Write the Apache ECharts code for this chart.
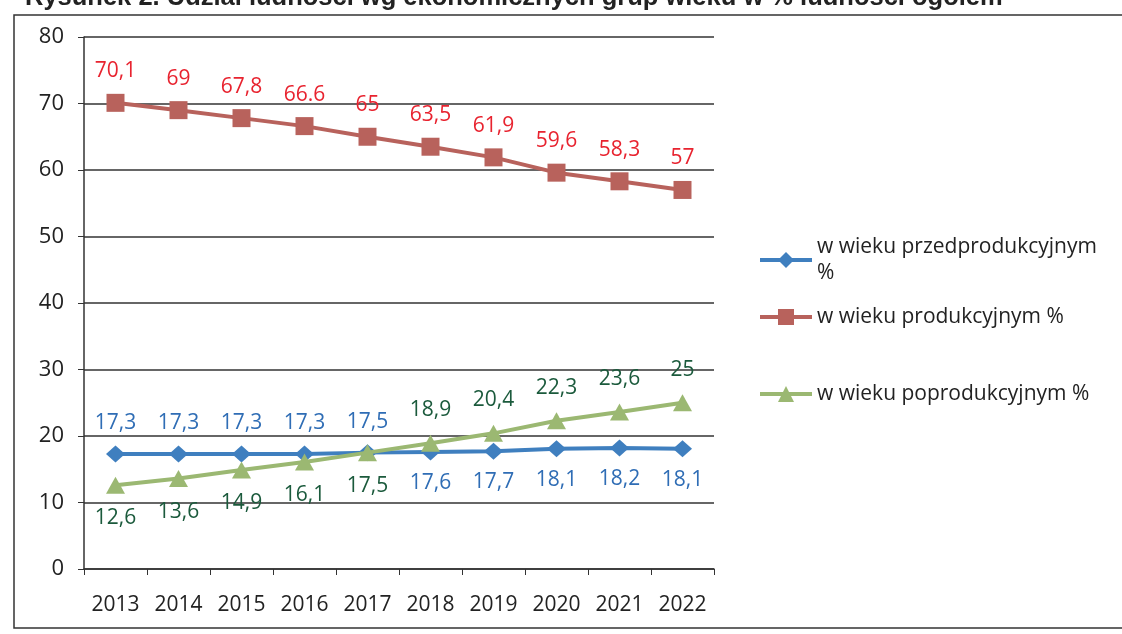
<!DOCTYPE html>
<html><head><meta charset="utf-8">
<script src="https://cdn.jsdelivr.net/npm/echarts@6/dist/echarts.min.js"></script>
<style>html,body{margin:0;padding:0;background:#fff}#c{width:1122px;height:634px}</style>
</head><body><div id="c"></div>
<script>
var years = ['2013','2014','2015','2016','2017','2018','2019','2020','2021','2022'];
var przed = [17.3,17.3,17.3,17.3,17.5,17.6,17.7,18.1,18.2,18.1];
var prod = [70.1,69,67.8,66.6,65,63.5,61.9,59.6,58.3,57];
var poprod = [12.6,13.6,14.9,16.1,17.5,18.9,20.4,22.3,23.6,25];
var przedLabels = ['17,3','17,3','17,3','17,3','17,5','17,6','17,7','18,1','18,2','18,1'];
var prodLabels = ['70,1','69','67,8','66.6','65','63,5','61,9','59,6','58,3','57'];
var poprodLabels = ['12,6','13,6','14,9','16,1','17,5','18,9','20,4','22,3','23,6','25'];
var przedPos = ['top','top','top','top','top','bottom','bottom','bottom','bottom','bottom'];
var poprodPos = ['bottom','bottom','bottom','bottom','bottom','top','top','top','top','top'];
var seriesNames = ['w wieku przedprodukcyjnym %','w wieku produkcyjnym %','w wieku poprodukcyjnym %'];
var titleText = 'Rysunek 2. Udział ludności wg ekonomicznych grup wieku w % ludności ogółem';

var FONT = '"Open Sans", sans-serif';
function mk(vals, labels, pos, dist) {
  return vals.map(function (v, i) {
    return { value: v, label: { position: pos ? pos[i] : 'top', distance: dist, formatter: labels[i] } };
  });
}
function leg(i, top) {
  return {
    orient: 'vertical', left: 753, top: top, itemWidth: 52, itemHeight: 20, itemGap: 0,
    lineStyle: { width: 4 },
    textStyle: { fontFamily: FONT, fontSize: 21, color: '#222', lineHeight: 26 },
    formatter: function (n) { return n === seriesNames[0] ? 'w wieku przedprodukcyjnym\n%' : n; },
    data: [seriesNames[i]]
  };
}
var chart = echarts.init(document.getElementById('c'));
chart.setOption({
  animation: false,
  backgroundColor: '#fff',
  title: { text: titleText, left: 20, top: -20,
    textStyle: { fontFamily: 'Liberation Sans, Arial', fontWeight: 'bold', fontSize: 25.5, color: '#222' } },
  graphic: [{ type: 'rect', shape: { x: 14, y: 15, width: 1130, height: 613 },
    style: { fill: 'none', stroke: '#333', lineWidth: 1.5 }, silent: true }],
  grid: { left: 84, right: 408, top: 37, bottom: 65 },
  legend: [leg(0, 229), leg(1, 299), leg(2, 376)],
  xAxis: {
    type: 'category', data: years, boundaryGap: true,
    axisLine: { lineStyle: { color: '#333', width: 1.5 } },
    axisTick: { show: true, inside: false, length: 6, lineStyle: { color: '#333' } },
    axisLabel: { fontFamily: FONT, fontSize: 21, color: '#222', margin: 26, interval: 0 }
  },
  yAxis: {
    type: 'value', min: 0, max: 80, interval: 10,
    axisLine: { show: true, lineStyle: { color: '#333', width: 1.5 } },
    axisTick: { show: true, length: 6, lineStyle: { color: '#333' } },
    axisLabel: { fontFamily: FONT, fontSize: 22, color: '#222', margin: 20 },
    splitLine: { lineStyle: { color: '#333', width: 1.5 } }
  },
  series: [
    { name: seriesNames[0], type: 'line', data: mk(przed, przedLabels, przedPos, 12),
      symbol: 'diamond', symbolSize: [19, 17],
      lineStyle: { color: '#3f7fbf', width: 4 }, itemStyle: { color: '#3f7fbf' },
      label: { show: true, fontFamily: FONT, fontSize: 21, color: '#2f6db5' }, z: 3 },
    { name: seriesNames[1], type: 'line', data: mk(prod, prodLabels, null, 12),
      symbol: 'rect', symbolSize: 18,
      lineStyle: { color: '#b8625c', width: 4 }, itemStyle: { color: '#b8625c' },
      label: { show: true, fontFamily: FONT, fontSize: 21, color: '#e8232f' }, z: 3 },
    { name: seriesNames[2], type: 'line', data: mk(poprod, poprodLabels, poprodPos, 14),
      symbol: 'triangle', symbolSize: [19, 17],
      lineStyle: { color: '#9bb872', width: 4 }, itemStyle: { color: '#9bb872' },
      label: { show: true, fontFamily: FONT, fontSize: 21, color: '#1b5a3c' }, z: 4 }
  ]
});
</script></body></html>
